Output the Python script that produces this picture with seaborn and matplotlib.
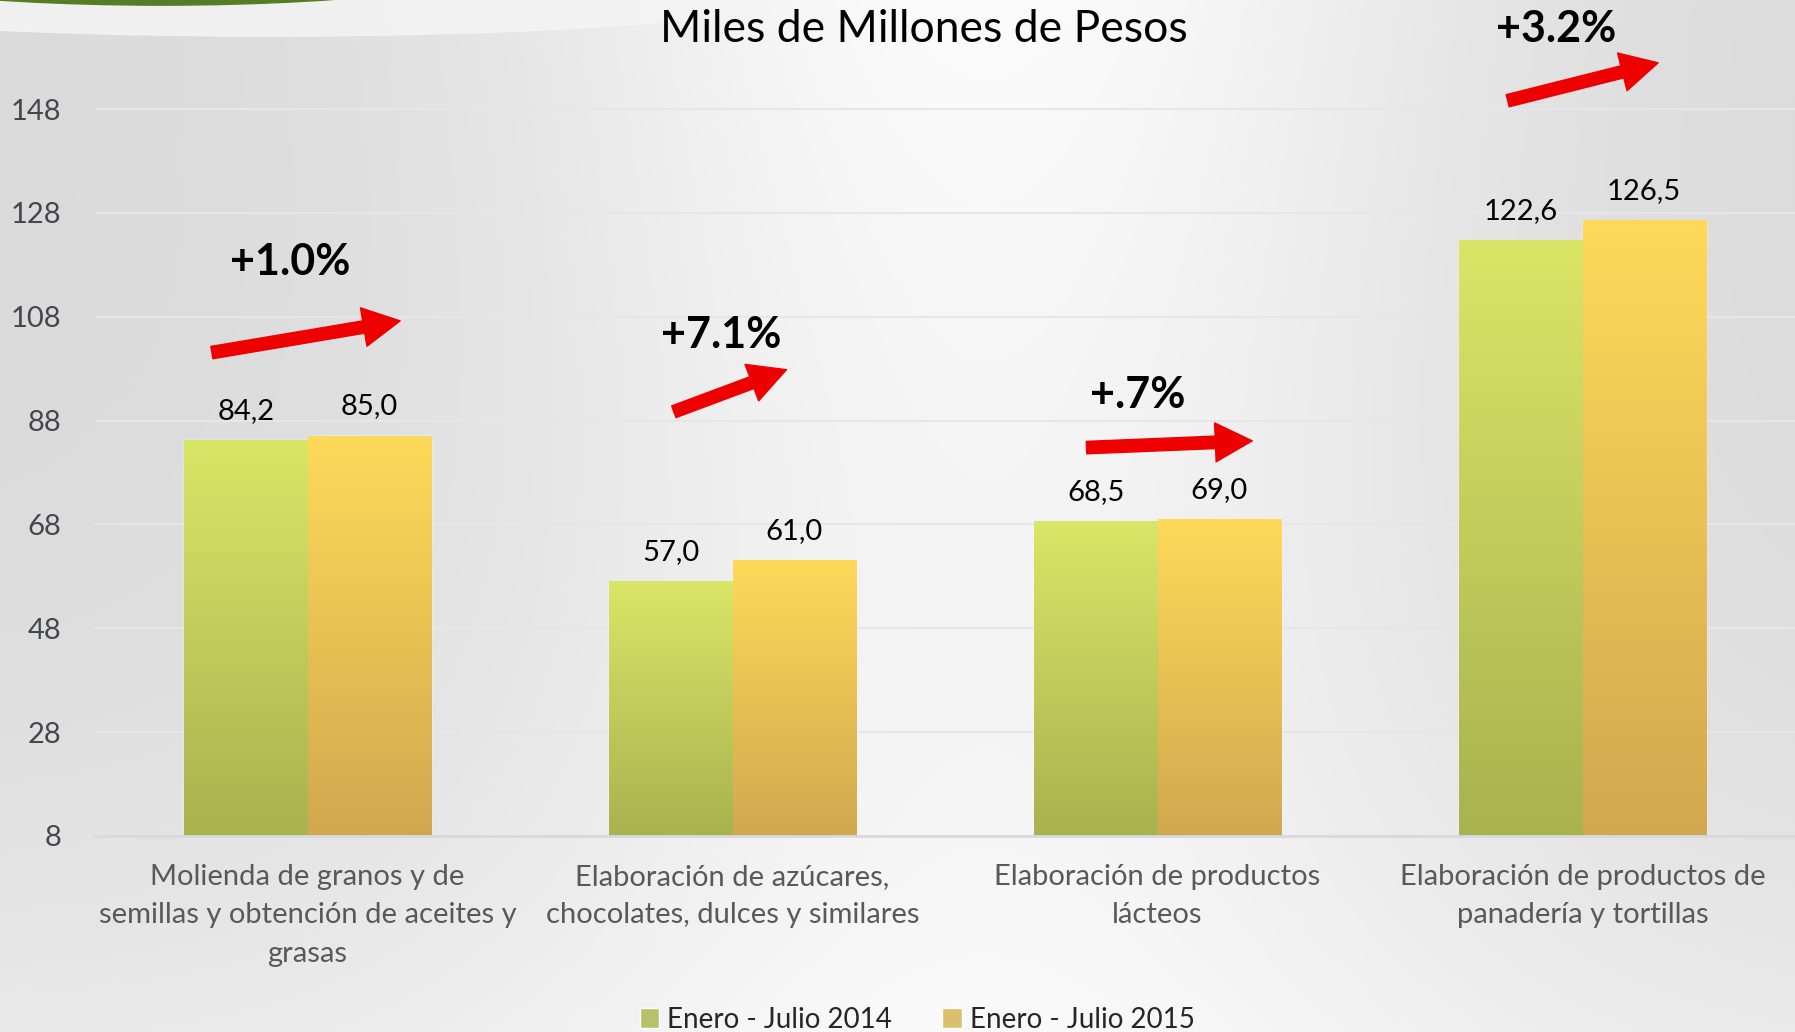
import numpy as np
import pandas as pd
import matplotlib
matplotlib.use("Agg")
import matplotlib.pyplot as plt
import seaborn as sns
from matplotlib.patches import Ellipse

# datos
categorias = [
    "Molienda de granos y de\nsemillas y obtención de aceites y\ngrasas",
    "Elaboración de azúcares,\nchocolates, dulces y similares",
    "Elaboración de productos\nlácteos",
    "Elaboración de productos de\npanadería y tortillas",
]
periodos = ["Enero - Julio 2014", "Enero - Julio 2015"]
valores_2014 = [84.2, 57.0, 68.5, 122.6]
valores_2015 = [85.0, 61.0, 69.0, 126.5]
crecimiento = ["+1.0%", "+7.1%", "+.7%", "+3.2%"]
y_ticks = [8, 28, 48, 68, 88, 108, 128, 148]

# posicion de flechas / textos (x relativo al centro de la categoria)
flecha_ini = [(-0.225, 101.1), (-0.138, 89.7), (-0.167, 82.8), (-0.176, 149.6)]
flecha_fin = [(0.218, 107.2), (0.127, 97.8), (0.223, 84.1), (0.178, 156.9)]
texto_pos = [(-0.04, 118.6), (-0.026, 104.5), (-0.047, 93.0), (-0.061, 163.5)]

df = pd.DataFrame({
    "categoria": categorias * 2,
    "periodo": [periodos[0]] * 4 + [periodos[1]] * 4,
    "valor": valores_2014 + valores_2015,
})

sns.set_theme(style="white")
plt.rcParams["font.family"] = ["Lato", "DejaVu Sans"]

fig = plt.figure(figsize=(17.95, 10.32), dpi=100)

# fondo degradado
bg = fig.add_axes([0, 0, 1, 1], zorder=-5)
W, H = 360, 200
xs = np.linspace(0, 1, W)[None, :]
ys = np.linspace(0, 1, H)[:, None]
base = 0.855 + 0.13 * np.exp(-((xs - 0.55) / 0.27) ** 2) * (1 - 0.5 * ys) + 0.06 * ys ** 3
base = np.clip(base, 0, 0.985)
img = np.dstack([base, base, base])
bg.imshow(img, aspect="auto", extent=[0, 1, 0, 1], interpolation="bilinear")
bg.add_patch(Ellipse((0.15, 1.0), 0.55, 0.07, color="#f4f4f4", alpha=0.85))
bg.add_patch(Ellipse((0.09, 1.045), 0.42, 0.10, color="#557d25"))
bg.set_xlim(0, 1)
bg.set_ylim(0, 1)
bg.axis("off")

ax = fig.add_axes([95 / 1795, 1 - 836 / 1032, 1 - 95 / 1795, 836 / 1032])
ax.patch.set_alpha(0)

colores = ["#c4cf5c", "#ecc85a"]
sns.barplot(data=df, x="categoria", y="valor", hue="periodo", palette=colores,
            width=0.58, gap=0, ax=ax, legend=True, zorder=3)

y_min = 8
# degradado en cada barra
grad_top = [np.array([0.85, 0.90, 0.40]), np.array([1.0, 0.85, 0.35])]
grad_bot = [np.array([0.66, 0.70, 0.31]), np.array([0.82, 0.66, 0.31])]
for k, cont in enumerate(ax.containers):
    t = np.linspace(0, 1, 100)[:, None]
    g = grad_top[k] * (1 - t) + grad_bot[k] * t
    g = g[:, None, :]
    for p in cont.patches:
        x0, w, h = p.get_x(), p.get_width(), p.get_height()
        ax.imshow(g, aspect="auto", extent=[x0, x0 + w, y_min, h], zorder=4,
                  interpolation="bilinear")
    etiquetas = [f"{v:.1f}".replace(".", ",") for v in cont.datavalues]
    ax.bar_label(cont, labels=etiquetas, padding=12, fontsize=21, color="black", zorder=6)

ax.set_xlim(-0.5, 3.5)
ax.set_ylim(y_min, 169)
ax.set_yticks(y_ticks)
ax.tick_params(axis="y", labelsize=21, labelcolor="#45464f", length=0, pad=24)
ax.set_xticks(range(4))
ax.set_xticklabels(categorias, fontsize=21, color="#595959", linespacing=1.6)
ax.tick_params(axis="x", length=0, pad=20)
ax.set_xticks([0.5, 1.5, 2.5], minor=True)
ax.tick_params(axis="x", which="minor", length=10, color="#d8d8e0", width=1.5)
ax.set_xlabel("")
ax.set_ylabel("")
ax.grid(axis="y", color="#e6e6ea", linewidth=1.5, zorder=0)
for s in ["top", "right", "left"]:
    ax.spines[s].set_visible(False)
ax.spines["bottom"].set_color("#d8d8e0")
ax.spines["bottom"].set_linewidth(2)
ax.spines["bottom"].set_zorder(7)

# flechas de crecimiento
for i, txt in enumerate(crecimiento):
    (xa, ya), (xb, yb), (xt, yt) = flecha_ini[i], flecha_fin[i], texto_pos[i]
    ax.annotate("", xy=(i + xb, yb), xytext=(i + xa, ya),
                arrowprops=dict(arrowstyle="simple,head_width=1.0,head_length=0.95,tail_width=0.32",
                                color="#ee0000", mutation_scale=28, shrinkA=0, shrinkB=0),
                zorder=8, annotation_clip=False)
    ax.text(i + xt, yt, txt, fontsize=31, fontweight="bold", ha="center", va="center",
            color="black", zorder=8)

fig.text(924 / 1795, 1 - 29 / 1032, "Miles de Millones de Pesos", fontsize=32,
         ha="center", va="center", color="black")

handles, labels = ax.get_legend_handles_labels()
ax.get_legend().remove()
fig.legend(handles, labels, loc="center", bbox_to_anchor=(0.511, 0.012), ncol=2,
           frameon=False, fontsize=20, handlelength=0.7, handleheight=0.7,
           handletextpad=0.3, columnspacing=1.8)

fig.savefig("out.png", dpi=100)
